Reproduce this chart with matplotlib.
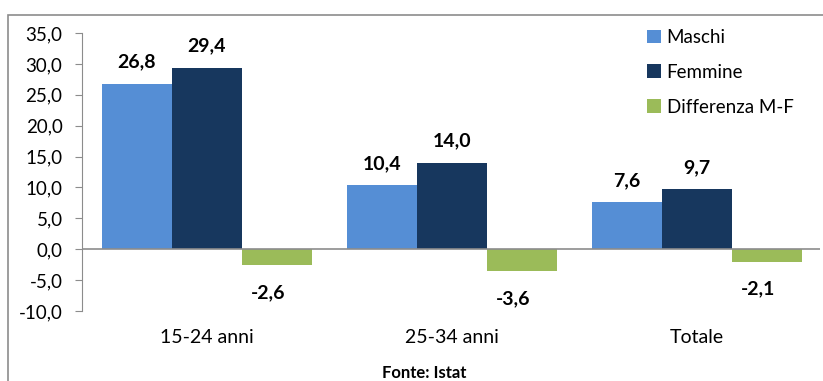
import matplotlib
matplotlib.use("Agg")
import matplotlib.pyplot as plt
import numpy as np
from matplotlib.patches import Rectangle

categories = ["15-24 anni", "25-34 anni", "Totale"]
maschi = [26.8, 10.4, 7.6]
femmine = [29.4, 14.0, 9.7]
differenza = [-2.6, -3.6, -2.1]
series_names = ["Maschi", "Femmine", "Differenza M-F"]
colors = ["#558ED5", "#17375E", "#9BBB59"]
yticks = [35, 30, 25, 20, 15, 10, 5, 0, -5, -10]

plt.rcParams['font.family'] = ['Lato', 'DejaVu Sans']

W, H = 823, 381
fig = plt.figure(figsize=(W/100, H/100), dpi=100)
ax = fig.add_axes([82/W, 1-311/H, (819.5-82)/W, (311-33)/H])

# outer frame
fig.patches.append(Rectangle((8/W, -0.1), 1.2, (H-15)/H + 0.1, transform=fig.transFigure,
                             fill=False, edgecolor="#8c8c8c", linewidth=1.2))

x = np.arange(len(categories))
bw = 0.286
data = [maschi, femmine, differenza]
for i, (vals, name, c) in enumerate(zip(data, series_names, colors)):
    pos = x + (i - 1) * bw
    bars = ax.bar(pos, vals, bw, color=c, label=name, zorder=2)
    for b, v in zip(bars, vals):
        lbl = f"{v:.1f}".replace(".", ",")
        if v >= 0:
            ax.annotate(lbl, (b.get_x() + b.get_width()/2, v), xytext=(0, 13),
                        textcoords="offset pixels", ha="center", va="bottom",
                        fontsize=14, fontweight="bold")
        else:
            ax.annotate(lbl, (b.get_x() + b.get_width()/2, v), xytext=(-9, -27),
                        textcoords="offset pixels", ha="center", va="center",
                        fontsize=14, fontweight="bold")

ax.set_xlim(-0.51, 2.5)
ax.set_ylim(-10, 35)
ax.set_yticks(yticks)
ax.set_yticklabels([f"{t:.1f}".replace(".", ",") for t in yticks], fontsize=13.5)
ax.set_xticks(x)
ax.set_xticklabels(categories, fontsize=14)
ax.tick_params(axis="x", length=0, pad=13)
ax.tick_params(axis="y", length=5, color="#8c8c8c", pad=9, direction="out")
for s in ["top", "right", "bottom"]:
    ax.spines[s].set_visible(False)
ax.spines["left"].set_color("#8c8c8c")
ax.axhline(0, color="#8c8c8c", linewidth=1.2, zorder=3)

leg = ax.legend(loc="upper left", bbox_to_anchor=(647/W, 1-29/H), bbox_transform=fig.transFigure,
                frameon=False, fontsize=13.5, handlelength=0.75, handleheight=0.75,
                handletextpad=0.3, labelspacing=0.95, borderaxespad=0, borderpad=0)

fig.text(424/W, 1-373/H, "Fonte: Istat", ha="center", va="center", fontsize=12, fontweight="bold")

fig.savefig("out.png", dpi=100)
